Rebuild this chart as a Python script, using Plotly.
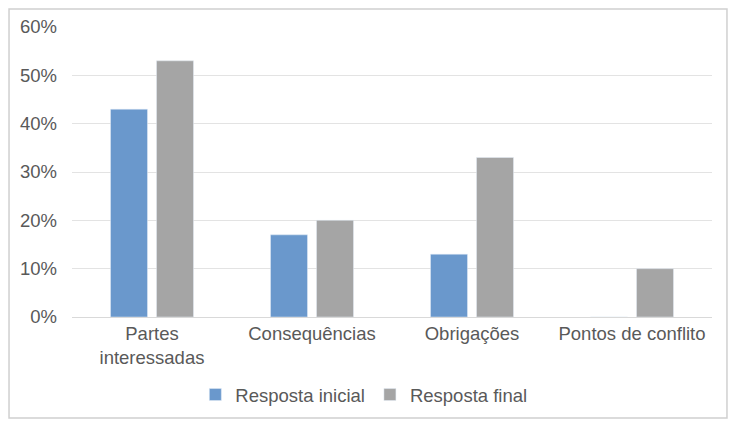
import plotly.graph_objects as go

categories = ["Partes<br>interessadas", "Consequências", "Obrigações", "Pontos de conflito"]
inicial = [0.43, 0.17, 0.13, 0.0]
final = [0.53, 0.20, 0.33, 0.10]
series_names = ["Resposta inicial", "Resposta final"]
tick_vals = [0, 0.1, 0.2, 0.3, 0.4, 0.5, 0.6]
tick_text = ["0%", "10%", "20%", "30%", "40%", "50%", "60%"]

fig = go.Figure()
fig.add_trace(go.Bar(x=categories, y=inicial, name=series_names[0], marker_color="#6a98cc"))
fig.add_trace(go.Bar(x=categories, y=final, name=series_names[1], marker_color="#a5a5a5"))

font = dict(family="Liberation Sans, Arial, sans-serif", size=18.5, color="#595959")
fig.update_layout(
    width=720, height=411,
    margin=dict(l=64, r=16, t=19, b=102, autoexpand=False),
    paper_bgcolor="white", plot_bgcolor="white",
    barmode="group", bargap=0.425, bargroupgap=0.196,
    font=font,
    showlegend=True,
    legend=dict(orientation="h", x=0.456, xanchor="center", y=-0.269, yanchor="middle",
                font=font, itemwidth=30, traceorder="normal"),
    xaxis=dict(showline=True, linecolor="#d9d9d9", linewidth=1, ticks="", tickfont=font,
               automargin=False),
    yaxis=dict(range=[0, 0.6], tickvals=tick_vals, ticktext=tick_text, showgrid=True,
               gridcolor="#e3e3e3", gridwidth=1, zeroline=False, showline=False,
               ticklabelstandoff=14, tickfont=font, automargin=False),
    shapes=[dict(type="rect", xref="paper", yref="paper", x0=-0.0984, x1=1.0234,
                 y0=-0.348, y1=1.062, line=dict(color="#d0d0d0", width=1.5))],
)
fig.write_html("out.html")
